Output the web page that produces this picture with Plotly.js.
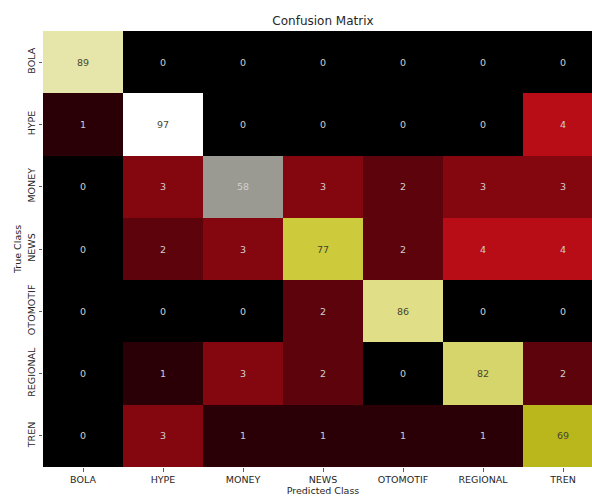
<!DOCTYPE html>
<html>
<head>
<meta charset="utf-8">
<script src="https://cdn.plot.ly/plotly-3.0.1.min.js"></script>
<style>
html,body{margin:0;padding:0;overflow:hidden;background:#fff;width:592px;height:497px;}
#chart{width:620px;height:497px;}
</style>
</head>
<body>
<div id="chart"></div>
<script>
const predicted = ["BOLA","HYPE","MONEY","NEWS","OTOMOTIF","REGIONAL","TREN"];
const trueClass = ["BOLA","HYPE","MONEY","NEWS","OTOMOTIF","REGIONAL","TREN"];
const rowBOLA     = [89, 0, 0, 0, 0, 0, 0];
const rowHYPE     = [1, 97, 0, 0, 0, 0, 4];
const rowMONEY    = [0, 3, 58, 3, 2, 3, 3];
const rowNEWS     = [0, 2, 3, 77, 2, 4, 4];
const rowOTOMOTIF = [0, 0, 0, 2, 86, 0, 0];
const rowREGIONAL = [0, 1, 3, 2, 0, 82, 2];
const rowTREN     = [0, 3, 1, 1, 1, 1, 69];

const z = [rowBOLA, rowHYPE, rowMONEY, rowNEWS, rowOTOMOTIF, rowREGIONAL, rowTREN];
const zmax = 97;

const colorscale = [
  [0.0, "#000000"],
  [1/97, "#2a0006"],
  [2/97, "#5c030b"],
  [3/97, "#84070f"],
  [4/97, "#b80c16"],
  [58/97, "#9b9a92"],
  [69/97, "#b9b71b"],
  [77/97, "#cdcb3c"],
  [82/97, "#d6d56b"],
  [86/97, "#e0df88"],
  [89/97, "#e7e6aa"],
  [1.0, "#ffffff"]
];

const annotations = [];
z.forEach((row, i) => {
  row.forEach((v, j) => {
    annotations.push({
      x: predicted[j], y: trueClass[i], xref: "x", yref: "y",
      text: String(v), showarrow: false,
      font: {family: "DejaVu Sans", size: 9.5, color: (v > 60) ? "#45452f" : "#d0d0d0"}
    });
  });
});

const trace = {
  type: "heatmap",
  x: predicted, y: trueClass, z: z,
  zmin: 0, zmax: zmax,
  colorscale: colorscale,
  showscale: false,
  xgap: 0, ygap: 0,
  hoverinfo: "x+y+z"
};

const layout = {
  width: 620, height: 497,
  margin: {l: 43, r: 17, t: 31, b: 30},
  paper_bgcolor: "#ffffff", plot_bgcolor: "#ffffff",
  font: {family: "DejaVu Sans", size: 9.5, color: "#262626"},
  title: {text: "Confusion Matrix", font: {family: "DejaVu Sans", size: 12, color: "#262626"},
          xref: "paper", x: 0.5, xanchor: "center", yref: "container", y: 1 - 20.5/497, yanchor: "middle"},
  xaxis: {
    type: "category", categoryorder: "array", categoryarray: predicted,
    title: {text: "Predicted Class", font: {size: 9.5, color: "#262626"}, standoff: 3},
    ticks: "outside", ticklen: 3.5, tickwidth: 0.8, tickcolor: "#333",
    tickfont: {size: 9.5, color: "#262626"},
    showgrid: false, zeroline: false, showline: false, fixedrange: true
  },
  yaxis: {
    type: "category", categoryorder: "array", categoryarray: trueClass,
    autorange: "reversed",
    title: {text: "True Class", font: {size: 9.5, color: "#262626"}, standoff: 2},
    ticks: "outside", ticklen: 3.5, tickwidth: 0.8, tickcolor: "#333",
    tickangle: -90,
    tickfont: {size: 9.5, color: "#262626"},
    showgrid: false, zeroline: false, showline: false, fixedrange: true
  },
  annotations: annotations
};

Plotly.newPlot("chart", [trace], layout, {displayModeBar: false, staticPlot: true});
</script>
</body>
</html>
